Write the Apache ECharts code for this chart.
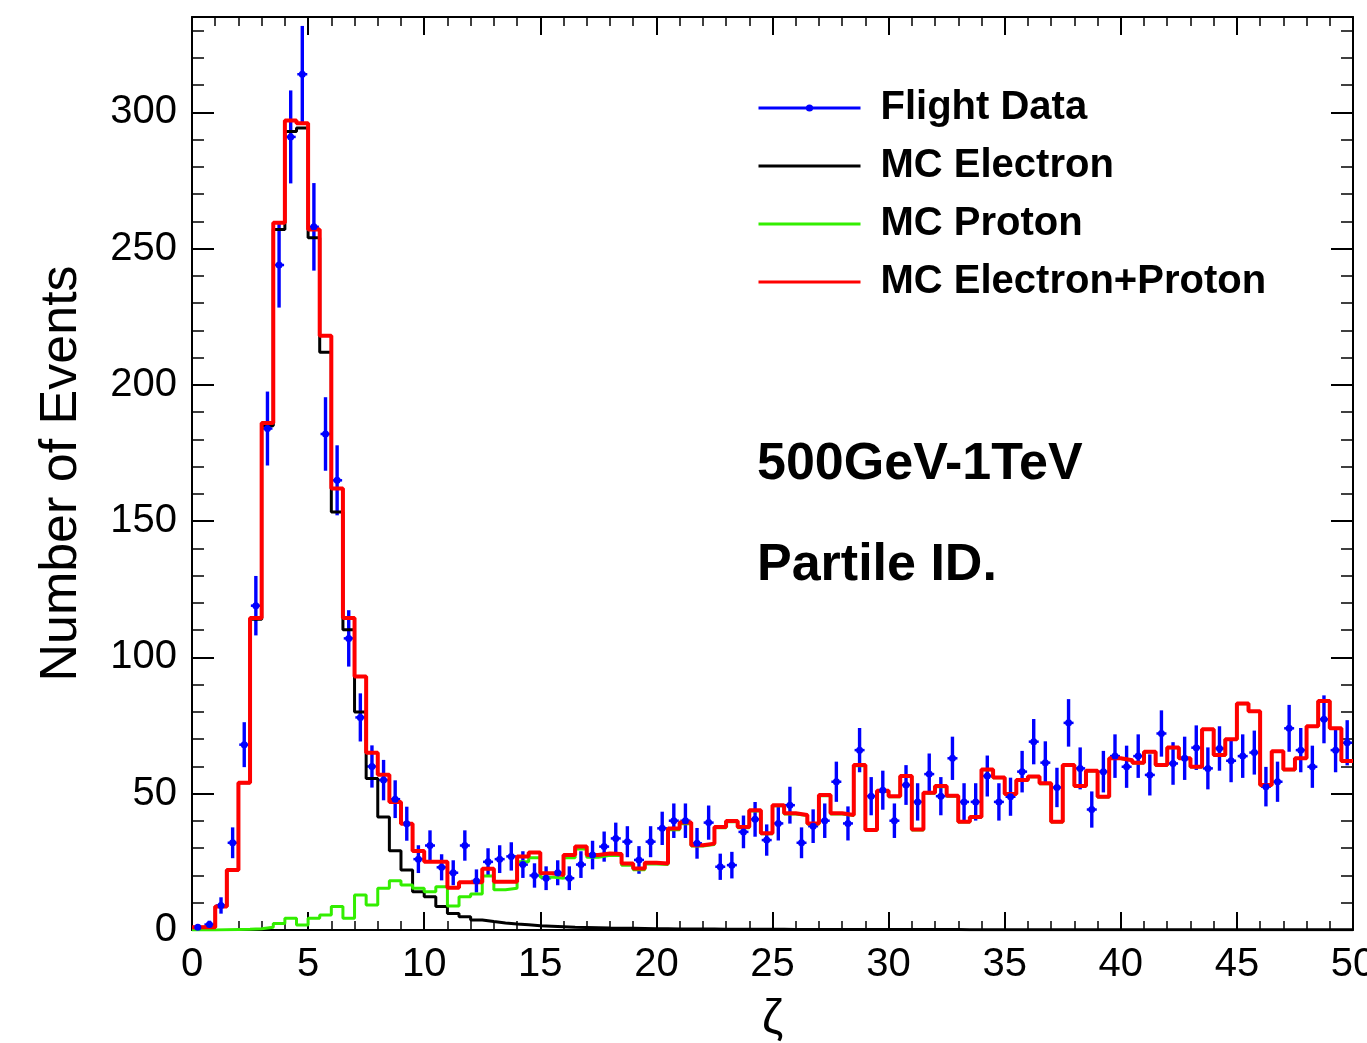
<!DOCTYPE html>
<html>
<head>
<meta charset="utf-8">
<script src="https://cdn.jsdelivr.net/npm/echarts@6/dist/echarts.min.js"></script>
<style>html,body{margin:0;padding:0;background:#fff;overflow:hidden}#c{width:1367px;height:1043px}</style>
</head>
<body>
<div id="c"></div>
<script>
// ---- data (100 bins of width 0.5 over zeta = 0..50) ----
const BIN_WIDTH = 0.5;
const X_MIN = 0, X_MAX = 50, Y_MIN = 0, Y_MAX = 335;

const flightData = [
  1, 2, 9, 32, 68, 119, 184, 244, 291, 314,
  258, 182, 165, 107, 78, 60, 55, 48, 39, 26,
  31, 23, 21, 31, 18, 25, 26, 27, 24, 20,
  19, 21, 19, 24, 27.5, 30.6, 33.6, 32.4, 25.7, 32.4,
  37.3, 40.1, 40.1, 31.8, 39.4, 23.2, 23.8, 36, 40.6, 33,
  39.1, 45.8, 32, 38.1, 40.1, 54.4, 39.1, 66, 49.1, 51.3,
  40.1, 53.2, 47, 57.2, 49.1, 63, 47, 47, 56.5, 47,
  48.9, 58.1, 69.1, 61.4, 52.3, 76, 59.3, 44.2, 58.1, 63.8,
  59.9, 63.8, 56.9, 72.1, 61.1, 63, 66.9, 59.3, 66.6, 62.1,
  63.8, 65.1, 52.6, 54.4, 74, 66, 59.9, 77.3, 66, 68.7
];

const mcElectron = [
  1, 1, 8.6, 22, 54, 114, 185, 257, 293, 294.3,
  254, 212, 153.4, 110.2, 80, 55.6, 41.5, 29.1, 22, 14,
  12.2, 8.6, 6.1, 4.9, 3.7, 3.1, 2.6, 2.2, 1.9, 1.6,
  1.4, 1.2, 1.0, 0.9, 0.8, 0.7, 0.65, 0.6, 0.55, 0.5,
  0.45, 0.4, 0.4, 0.35, 0.35, 0.3, 0.3, 0.3, 0.25, 0.25,
  0.25, 0.2, 0.2, 0.2, 0.2, 0.2, 0.2, 0.2, 0.15, 0.15,
  0.15, 0.15, 0.15, 0.15, 0.15, 0.15, 0.1, 0.1, 0.1, 0.1,
  0.1, 0.1, 0.1, 0.1, 0.1, 0.1, 0.1, 0.1, 0.1, 0.1,
  0.1, 0.1, 0.05, 0.05, 0.05, 0.05, 0.05, 0.05, 0.05, 0.05,
  0.05, 0.05, 0.05, 0.05, 0.05, 0.05, 0.05, 0.05, 0.05, 0.05
];

const mcProton = [
  0, 0, 0.1, 0.2, 0.3, 0.5, 1.0, 2.4, 4.3, 1.8,
  4.3, 5.5, 8.6, 4.3, 12.8, 9.2, 15.3, 18.1, 16.5, 15.3,
  14, 15.9, 8.8, 12.2, 13.2, 19.8, 14.8, 15.3, 25, 26.5,
  19.4, 19.0, 26.5, 29.7, 26.7, 27.4, 27.3, 23.8, 22.1, 24.2,
  24.0, 36.8, 39.0, 30.8, 31.4, 37.5, 39.7, 37.5, 43.7, 35.3,
  45.6, 42.6, 42.0, 38.9, 49.3, 42.6, 42.0, 60.3, 36.5, 50.9,
  48.9, 56.3, 36.7, 50.2, 52.6, 49.1, 39.6, 41.4, 58.8, 55.9,
  49.8, 54.9, 56.2, 53.7, 39.6, 60.4, 52.7, 58.3, 48.8, 62.9,
  62.2, 61.3, 65.3, 60.4, 66.9, 62.9, 59.8, 73.6, 64.1, 69.9,
  83.0, 80.2, 53.1, 65.5, 58.8, 62.9, 74.7, 83.9, 73.9, 61.9
];

const mcSum = [
  1, 1, 8.6, 22, 54, 114.5, 186, 259.5, 297, 296,
  257, 218, 162, 114.5, 93, 65, 57, 47, 39, 29,
  25, 25, 15.5, 17.5, 17.5, 22.5, 17.7, 17.7, 27, 28.4,
  20.8, 20.2, 27.5, 30.6, 27.5, 28.1, 27.9, 24.4, 22.6, 24.7,
  24.4, 37.2, 39.4, 31.1, 31.7, 37.8, 40, 37.8, 43.9, 35.5,
  45.8, 42.8, 42.2, 39.1, 49.5, 42.8, 42.2, 60.5, 36.7, 51.1,
  49.1, 56.5, 36.9, 50.4, 52.8, 49.3, 39.7, 41.5, 58.9, 56,
  49.9, 55, 56.3, 53.8, 39.7, 60.5, 52.8, 58.4, 48.9, 63,
  62.3, 61.4, 65.4, 60.5, 67, 63, 59.9, 73.7, 64.2, 70,
  83.1, 80.3, 53.2, 65.6, 58.9, 63, 74.8, 84, 74, 62
];

const seriesNames = ['Flight Data', 'MC Electron', 'MC Proton', 'MC Electron+Proton'];
const annotations = ['500GeV-1TeV', 'Partile ID.'];
const xTitle = 'ζ';
const yTitle = 'Number of Events';

// ---- helpers ----
const FONT = "'Liberation Sans', Arial, Helvetica, sans-serif";
function histLine(vals) {
  const d = vals.map((v, i) => [i * BIN_WIDTH, v]);
  d.push([vals.length * BIN_WIDTH, vals[vals.length - 1]]);
  return d;
}
const dataPoints = flightData.map((v, i) => [(i + 0.5) * BIN_WIDTH, v]);
const dataErrors = flightData.map((v, i) => [(i + 0.5) * BIN_WIDTH, v, Math.sqrt(v)]);

const chart = echarts.init(document.getElementById('c'), null, {renderer: 'canvas'});

const axisLineStyle = {color: '#000', width: 2};
function xAx(pos, labels) {
  return {
    type: 'value', position: pos, min: X_MIN, max: X_MAX, interval: 5,
    axisLine: {show: true, onZero: false, lineStyle: axisLineStyle},
    axisTick: {show: true, inside: true, length: 18, lineStyle: {color: '#000', width: 2}},
    minorTick: {show: true, splitNumber: 5, length: 9, lineStyle: {color: '#000', width: 1.5}},
    splitLine: {show: false}, minorSplitLine: {show: false},
    axisLabel: labels ? {show: true, fontSize: 40, fontFamily: FONT, color: '#000', margin: 15, hideOverlap: false} : {show: false},
    name: labels ? xTitle : '', nameLocation: 'middle', nameGap: 66,
    nameTextStyle: {fontSize: 48, fontFamily: FONT, color: '#000'}
  };
}
function yAx(pos, major, labels) {
  return {
    type: 'value', position: pos, min: Y_MIN, max: Y_MAX, interval: major ? 50 : 10,
    axisLine: {show: major, onZero: false, lineStyle: axisLineStyle},
    axisTick: {show: true, inside: true, length: major ? 22 : 12, lineStyle: {color: '#000', width: major ? 2 : 1.5}},
    splitLine: {show: false},
    axisLabel: labels ? {show: true, fontSize: 40, fontFamily: FONT, color: '#000', margin: 15, showMaxLabel: false,
      formatter: v => (v % 50 === 0 ? String(v) : '')} : {show: false},
    name: labels ? yTitle : '', nameLocation: 'middle', nameRotate: 90, nameGap: 104,
    nameTextStyle: {fontSize: 52, fontFamily: FONT, color: '#000'}
  };
}

const option = {
  animation: false,
  backgroundColor: '#fff',
  grid: {left: 192, right: 14, top: 17, bottom: 113, containLabel: false, outerBoundsMode: 'none'},
  xAxis: [xAx('bottom', true), xAx('top', false)],
  yAxis: [yAx('left', true, true), yAx('left', false, false), yAx('right', true, false), yAx('right', false, false)],
  legend: {
    orient: 'vertical', left: 757, top: 88, padding: 0,
    itemWidth: 102, itemHeight: 9, itemGap: 18, selectedMode: false,
    textStyle: {fontSize: 40, fontWeight: 'bold', fontFamily: FONT, color: '#000', lineHeight: 40, padding: [0, 0, 0, 15]},
    data: [
      {name: seriesNames[0], lineStyle: {width: 3, opacity: 1, color: '#0000ff'}, itemStyle: {color: '#0000ff', borderWidth: 0}},
      {name: seriesNames[1], icon: 'path://M0,0H102V3H0Z', itemStyle: {color: '#000000', borderWidth: 0}},
      {name: seriesNames[2], icon: 'path://M0,0H102V3H0Z', itemStyle: {color: '#33ee00', borderWidth: 0}},
      {name: seriesNames[3], icon: 'path://M0,0H102V3H0Z', itemStyle: {color: '#ff0000', borderWidth: 0}}
    ]
  },
  graphic: [
    {type: 'text', left: 757, top: 439, style: {text: annotations[0], font: 'bold 52px ' + FONT, fill: '#000'}},
    {type: 'text', left: 757, top: 540, style: {text: annotations[1], font: 'bold 52px ' + FONT, fill: '#000'}}
  ],
  series: [
    {
      type: 'custom', name: 'Flight Data errors', xAxisIndex: 0, yAxisIndex: 0,
      data: dataErrors, encode: {x: 0, y: 1}, clip: true, silent: true,
      renderItem: function (params, api) {
        const x = api.value(0), y = api.value(1), e = api.value(2);
        const top = api.coord([x, y + e]);
        const bot = api.coord([x, Math.max(y - e, 0)]);
        const c = api.coord([x, y]);
        return {type: 'group', children: [
          {type: 'line', shape: {x1: top[0], y1: top[1], x2: bot[0], y2: bot[1]}, style: {stroke: '#0000ff', lineWidth: 3.4}},
          {type: 'line', shape: {x1: c[0] - 5, y1: c[1], x2: c[0] + 5, y2: c[1]}, style: {stroke: '#0000ff', lineWidth: 2.5}}
        ]};
      }
    },
    {
      type: 'line', name: seriesNames[0], xAxisIndex: 0, yAxisIndex: 0, data: dataPoints,
      symbol: 'circle', symbolSize: 7, showSymbol: true, showAllSymbol: true,
      itemStyle: {color: '#0000ff'}, color: '#0000ff',
      lineStyle: {width: 0, opacity: 0}, silent: true
    },
    {
      type: 'line', name: seriesNames[1], xAxisIndex: 0, yAxisIndex: 0, data: histLine(mcElectron),
      step: 'end', symbol: 'none', color: '#000000', lineStyle: {color: '#000000', width: 3}, silent: true
    },
    {
      type: 'line', name: seriesNames[2], xAxisIndex: 0, yAxisIndex: 0, data: histLine(mcProton),
      step: 'end', symbol: 'none', color: '#33ee00', lineStyle: {color: '#33ee00', width: 3}, silent: true
    },
    {
      type: 'line', name: seriesNames[3], xAxisIndex: 0, yAxisIndex: 0, data: histLine(mcSum),
      step: 'end', symbol: 'none', color: '#ff0000', lineStyle: {color: '#ff0000', width: 4}, silent: true
    }
  ]
};
chart.setOption(option);
</script>
</body>
</html>
